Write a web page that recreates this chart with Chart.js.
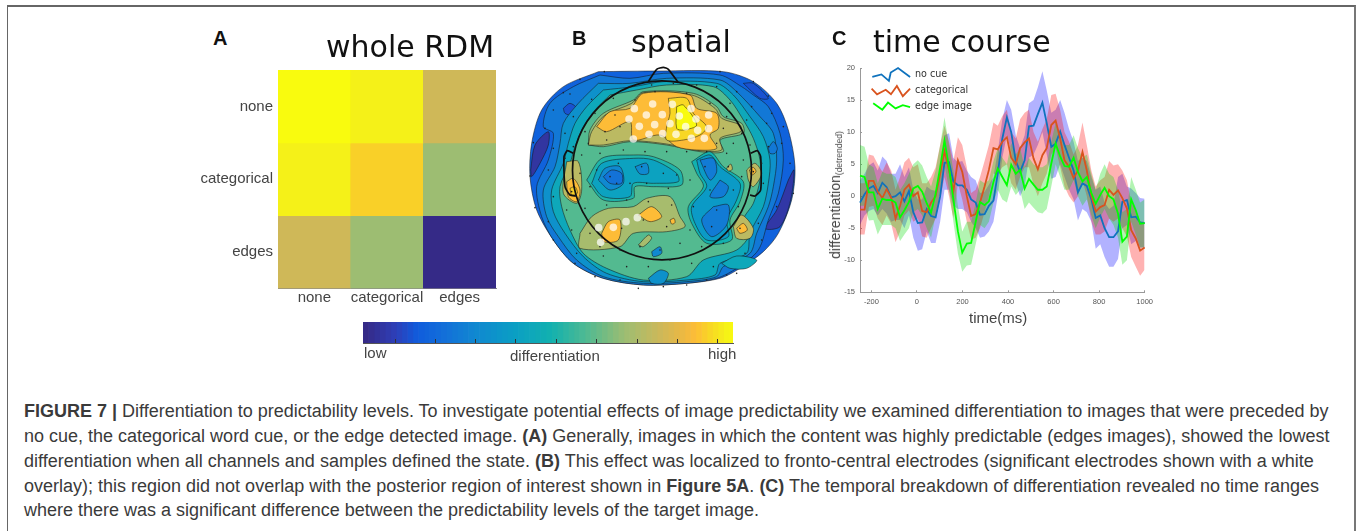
<!DOCTYPE html>
<html>
<head>
<meta charset="utf-8">
<script src="https://cdn.jsdelivr.net/npm/chart.js@4/dist/chart.umd.js"></script>
<style>
body { margin: 0; background: #fff; width: 1358px; height: 531px; overflow: hidden; position: relative; font-family: "Liberation Sans", sans-serif; }
#frame { position: absolute; left: 7px; top: 5px; width: 1346px; height: 540px; border: 1px solid #666; border-right: 2px solid #777; border-top: 2px solid #666; }
canvas { filter: blur(0.4px); }
.box { position: absolute; }
.txt { position: absolute; white-space: nowrap; }
.title { font-family: "DejaVu Sans"; font-size: 30px; color: #111; line-height: 30px; }
.letter { font-weight: bold; font-size: 20px; color: #111; line-height: 20px; }
.lab { font-size: 15px; color: #444; line-height: 16px; }
.leg { font-family: "DejaVu Sans"; font-size: 9.6px; color: #333; line-height: 11px; }
.cap { font-size: 18px; color: #3a3a3a; line-height: 18px; letter-spacing: 0; }
</style>
</head>
<body>
<div id="frame"></div>

<div class="box" style="left:190px;top:56px;width:320px;height:254px"><canvas id="chart-rdm"></canvas></div>
<div class="box" style="left:520px;top:20px;width:280px;height:280px"><canvas id="chart-topo"></canvas></div>
<div class="box" style="left:820px;top:55px;width:340px;height:275px"><canvas id="chart-time"></canvas></div>
<div class="box" style="left:355px;top:315px;width:385px;height:35px"><canvas id="chart-bar"></canvas></div>

<div class="txt letter" style="left:213px;top:28px">A</div>
<div class="txt letter" style="left:572px;top:28px">B</div>
<div class="txt letter" style="left:832px;top:28px">C</div>
<div class="txt title" style="left:326px;top:32px">whole RDM</div>
<div class="txt title" style="left:631px;top:27px">spatial</div>
<div class="txt title" style="left:873px;top:27px">time course</div>

<div class="txt lab" style="left:364px;top:345px">low</div>
<div class="txt lab" style="left:510px;top:348px">differentiation</div>
<div class="txt lab" style="left:708px;top:346px">high</div>

<div class="txt leg" style="left:915px;top:68px">no cue</div>
<div class="txt leg" style="left:915px;top:84px">categorical</div>
<div class="txt leg" style="left:915px;top:100px">edge image</div>
<div class="txt" style="left:835px;top:195px;transform:translate(-50%,-50%) rotate(-90deg);font-size:14px;color:#444">differentiation<span style="font-size:8.5px;position:relative;top:2px">(detrended)</span></div>

<div class="txt cap" style="left:24px;top:402px"><b>FIGURE 7 |</b> Differentiation to predictability levels. To investigate potential effects of image predictability we examined differentiation to images that were preceded by</div>
<div class="txt cap" style="left:24px;top:427px">no cue, the categorical word cue, or the edge detected image. <b>(A)</b> Generally, images in which the content was highly predictable (edges images), showed the lowest</div>
<div class="txt cap" style="left:24px;top:452px">differentiation when all channels and samples defined the state. <b>(B)</b> This effect was localized to fronto-central electrodes (significant electrodes shown with a white</div>
<div class="txt cap" style="left:24px;top:477px">overlay); this region did not overlap with the posterior region of interest shown in <b>Figure 5A</b>. <b>(C)</b> The temporal breakdown of differentiation revealed no time ranges</div>
<div class="txt cap" style="left:24px;top:501px">where there was a significant difference between the predictability levels of the target image.</div>

<script>
// panel A
conditions = ['none', 'categorical', 'edges']
rdmNone = [1.0, 0.97, 0.8]
rdmCategorical = [0.97, 0.92, 0.7]
rdmEdges = [0.8, 0.7, 0.0]

// colour scale
scalePos = [0, 0.08, 0.14, 0.22, 0.3, 0.4, 0.5, 0.6, 0.7, 0.8, 0.85, 0.89, 0.92, 0.97, 1]
scaleCol = ['#352a87', '#2e3fb8', '#0f5cdd', '#1372d8', '#1089d0', '#0a9ec4', '#12b1af', '#53ba90', '#9dbd72', '#cfb858', '#e8b845', '#fdbc37', '#f9d028', '#f5f118', '#f9fb0e']
barLevels = [0, 0.015, 0.03, 0.045, 0.06, 0.075, 0.09, 0.105, 0.12, 0.135, 0.15, 0.165, 0.18, 0.195, 0.21, 0.225, 0.24, 0.255, 0.27, 0.285, 0.3, 0.315, 0.33, 0.345, 0.36, 0.375, 0.39, 0.405, 0.42, 0.435, 0.45, 0.465, 0.48, 0.495, 0.51, 0.525, 0.54, 0.555, 0.57, 0.585, 0.6, 0.615, 0.63, 0.645, 0.66, 0.675, 0.69, 0.705, 0.72, 0.735, 0.75, 0.765, 0.78, 0.795, 0.81, 0.825, 0.84, 0.855, 0.87, 0.885, 0.9, 0.915, 0.93, 0.945, 0.96, 0.975, 0.99, 1]
barTicks = [0.0865, 0.196, 0.305, 0.413, 0.523, 0.632, 0.741, 0.85, 0.959]

// panel C
times = [-250,-230,-211,-191,-172,-152,-133,-113,-94,-74,-55,-35,-16,4,23,43,62,82,102,121,141,160,180,199,219,238,258,277,297,316,336,355,375,395,414,434,453,473,492,512,531,551,570,590,609,629,648,668,688,707,727,746,766,785,805,824,844,863,883,902,922,941,961,980,1000]
noCue = [-1,0.3,1.2,1.6,0.5,2.1,1.4,-0.2,0,0.6,-0.8,0.8,-2.5,-4.2,-4.1,-2,-3.1,-3.3,0,5.2,5.3,2.3,1.7,1.7,1,-0.5,-1,-2.9,-2.8,-1.5,-0.7,3.5,9,12.3,10,5.5,3.8,5.6,10.9,11,12.8,14.6,11.4,7.7,8.2,10.1,8,6,4,0.6,2,1.6,-0.5,-3.4,-3,-5,-6.4,-6.4,-5.5,-0.9,-0.6,-3.3,-3.2,-4.1,-4.2]
noCueHigh = [2.5,3.5,4.8,5.3,4,6.2,5.5,3.5,3.5,5,3,4.5,1,-0.5,-0.5,1.5,1,0.8,4,9.5,9.8,6,5.3,5.5,4,3,2.5,0.5,0.7,1.8,3,7,12,15,13.5,9.5,7.5,9.5,14.5,15,17,19.5,16.5,13,13.5,15,13,10.5,8.5,5.5,6,5.5,3,1,1.5,-1,-2,-1.5,3,3.5,1.5,1.2,0.5,-0.3,-0.4]
noCueLow = [-4.5,-3,-2.3,-2,-3,-2,-2.7,-4,-3.7,-3.7,-5,-3,-6.5,-8.5,-8.3,-5.5,-7.3,-7.3,-4,1,1,-1.5,-2,-2,-2.5,-4,-5,-6.5,-6.3,-5.5,-4,0,6,9.5,7,2,0,1.5,6,6.5,8,10,6.5,2.7,3,5,3,1,-0.5,-3.8,-2,-2.5,-4,-8.2,-7.5,-9.5,-11,-11,-9.8,-5,-4.5,-7.5,-7,-8,-8]
categorical = [-2.1,-2.1,2.4,2.4,0.7,-0.3,1.1,-0.2,-3.5,-1.5,1,1.8,0,0.6,-2.3,-2.5,-1,0,3.5,7,4,0.8,5.6,3.8,0,-3.1,-2.8,-1,1.5,4.1,7.5,7.3,8.5,9.2,6,5,7.5,8.4,9,5.9,4.2,6.4,7.5,11.1,11.8,9,5.6,4.6,2.8,4,6.9,4,0,-2.4,-1.7,-1.4,1,0.2,0.9,-0.3,-1.9,-5.3,-6.6,-8.5,-8]
categoricalHigh = [2,2,6.5,6.3,5,3.8,5.3,4,1,3,5.3,6,4.5,5,2,2,3,4.5,8,11,8.5,5.5,9.2,8,4.5,0.5,1,3,5.5,8,11.5,11,12.5,13.5,10,9,12,13,13.5,10,8.5,10.5,12,15.8,16,13.5,10,8.5,6.5,8,11.5,8,4,1.5,2.5,3,5.5,4.8,5,4,2.5,-1,-2,-4,-4]
categoricalLow = [-6,-6,-1.7,-1.5,-3.5,-4.5,-3,-4.3,-7.2,-5.5,-3,-2.2,-4,-3.5,-6.3,-6.5,-5,-3.5,-0.5,3,0,-3.5,2,-0.5,-4,-6.8,-6.5,-5,-2.5,0,3.5,3.5,4.5,5,2,1,3,4.5,4.5,1.8,0,2,3.5,6.5,7.5,4.5,1.5,0,-1,0,2.5,0,-4,-6,-6,-5.5,-3.5,-4,-3.5,-5,-6.3,-9.5,-11,-12.4,-11.5]
edgeImage = [3.2,3,0.6,0.6,-2,-0.4,-0.6,-0.6,-1,-3.3,-2.2,-0.9,1.2,1.6,0.7,-1.1,-2.6,0.4,4.5,8.7,4.5,-0.5,-5.5,-8.8,-7.4,-7.3,-4,-0.9,-1.4,-0.8,2.2,4.3,3,1.7,4.9,3.5,4.1,1.2,2.7,1.8,1,1,1.5,5.1,8.2,6.2,4.7,4.6,6,3.8,2.3,3,0.5,-1.2,0.2,1.3,0,-0.5,-2.7,-7.1,-6.3,-0.5,-2.2,-4.3,-4.2]
edgeImageHigh = [8,7.7,5,4.5,2,3.8,3.5,3.5,3,1,2,3.5,5,5.6,4.8,3,1.5,4,8,12.3,8,4,-1.5,-5.5,-4,-4,-1,2.5,2,2.5,5.5,7.5,6,5,8.3,6.5,7.5,4.5,6,5,4.5,4.5,5,8.5,11.5,9.5,8,8,9.5,7.5,6,6.5,3.5,1,3.5,5,3.5,3,1,-2.5,-2,3,1,-1,-0.5]
edgeImageLow = [-1.5,-1.5,-3.8,-3.7,-6,-4.5,-4.5,-4.5,-5,-7,-6,-5,-2.5,-2,-3,-5,-6.5,-3,1,5,1,-4,-9,-11.8,-10.8,-10.7,-7.5,-4.5,-5,-4,-1,1,-0.5,-1,1.5,0.2,1,-2,-1,-1.8,-2.5,-2.7,-2,1.5,5,3,1,1,2.5,0,-1.5,-0.5,-3,-5,-3.3,-2,-3.5,-4.5,-6.5,-10.7,-10,-4,-6,-8,-8]
legendNoCue = [[-196, 18.6], [-156, 19], [-123, 18], [-115, 19.3], [-83, 20], [-30, 18.6]]
legendCategorical = [[-199, 16.8], [-175, 15.9], [-137, 16.6], [-114, 15.9], [-88, 17.2], [-62, 15.6], [-30, 16.8]]
legendEdgeImage = [[-192, 14.5], [-152, 13.5], [-127, 14.6], [-94, 13.7], [-62, 14.2], [-30, 13.9]]
timeTicks = [-200, 0, 200, 400, 600, 800, 1000]
diffTicks = [-15, -10, -5, 0, 5, 10, 15, 20]

// panel B, contour lines from the outside of the head to the inside, and the level of each
contourLevels = [0.16, 0.04, 0.05, 0.24, 0.12, 0.12, 0.34, 0.45, 0.6, 0.68, 0.76, 0.89, 0.93, 1, 0.52, 0.42, 0.3, 0.5, 0.38, 0.25, 0.25, 0.25, 0.3, 0.22, 0.76, 0.89, 0.92, 0.76, 0.89, 0.72, 0.76, 0.89, 0.89, 0.89, 0.72, 0.76, 0.89, 0.3, 0.34, 0.45, 0.24]
contourLines = [
    [[235,155],[420,153],[610,155],[700,185],[770,250],[805,330],[825,440],[815,540],[775,640],[730,695],[660,745],[600,775],[500,790],[370,795],[250,775],[160,730],[100,660],[50,570],[30,470],[35,370],[65,270],[130,200]],
    [[32,450],[45,375],[85,335],[85,375],[60,430],[35,470]],
    [[805,480],[822,450],[812,540],[780,620],[735,625],[770,570]],
    [[240,165],[330,175],[430,160],[600,165],[665,200],[700,225],[745,260],[780,340],[790,420],[775,520],[745,600],[715,690],[650,745],[590,775],[500,790],[370,795],[250,775],[160,730],[100,660],[65,590],[50,500],[85,420],[100,340],[70,320],[90,250],[160,200]],
    [[130,265],[150,250],[170,265],[155,285],[135,280]],
    [[670,190],[700,190],[745,235],[720,235]],
    [[235,190],[330,190],[440,175],[600,180],[650,215],[720,290],[760,340],[770,420],[760,500],[745,560],[710,640],[690,700],[610,740],[590,770],[500,785],[370,790],[250,770],[170,720],[115,650],[80,590],[70,510],[105,440],[120,370],[130,310],[175,250]],
    [[250,210],[340,200],[430,185],[590,190],[640,225],[690,290],[730,350],[750,420],[745,490],[730,560],[690,640],[680,700],[600,730],[585,765],[500,780],[370,785],[260,760],[190,710],[135,640],[100,575],[95,510],[130,430],[145,370],[165,310],[200,260]],
    [[270,225],[350,210],[440,195],[580,200],[630,240],[670,300],[700,355],[720,420],[720,480],[700,550],[670,600],[690,640],[650,690],[550,720],[500,770],[370,780],[260,745],[190,700],[150,630],[125,560],[120,500],[150,430],[165,380],[190,320],[225,270]],
    [[205,375],[210,330],[250,280],[340,240],[370,215],[520,220],[590,260],[610,290],[665,310],[670,340],[600,360],[610,395],[540,395],[440,375],[330,365],[250,380]],
    [[205,375],[215,335],[255,285],[335,250],[370,218],[515,225],[585,265],[605,295],[660,315],[662,335],[600,355],[605,390],[540,392],[440,372],[330,362],[250,375]],
    [[230,320],[270,275],[330,265],[370,220],[510,225],[530,265],[590,280],[595,325],[570,345],[590,385],[530,390],[470,380],[420,345],[340,360],[330,305],[260,335]],
    [[445,235],[500,235],[520,280],[560,320],[540,345],[490,360],[440,360],[440,320],[450,280]],
    [[470,260],[490,255],[530,315],[490,330],[470,325]],
    [[200,480],[245,415],[340,405],[400,410],[480,450],[485,495],[400,500],[345,500],[340,535],[250,540]],
    [[215,490],[245,430],[340,415],[400,420],[470,460],[475,485],[400,490],[340,490],[330,530],[250,530]],
    [[235,480],[255,445],[300,440],[310,490],[270,510]],
    [[515,425],[570,395],[610,440],[670,485],[660,545],[630,600],[635,660],[560,670],[515,610],[505,560],[550,500],[530,460]],
    [[530,420],[570,405],[600,440],[660,490],[650,540],[620,600],[625,650],[560,660],[525,610],[515,560],[560,500],[540,460]],
    [[540,420],[580,415],[590,455],[570,480]],
    [[600,480],[625,500],[610,530],[570,530]],
    [[580,560],[625,555],[620,615],[575,650],[545,600]],
    [[345,440],[380,430],[385,460],[360,462]],
    [[250,470],[275,450],[305,460],[305,490],[270,490]],
    [[140,425],[175,425],[185,510],[170,550],[130,520]],
    [[140,485],[160,475],[180,510],[170,545],[145,530]],
    [[150,505],[165,500],[172,520],[155,525]],
    [[680,450],[705,430],[725,460],[700,500],[685,480]],
    [[688,450],[700,442],[708,455],[695,465]],
    [[180,640],[215,590],[265,565],[340,560],[380,535],[450,530],[480,590],[495,620],[440,635],[340,640],[300,680],[180,685]],
    [[640,620],[665,585],[700,625],[690,655],[650,655]],
    [[245,640],[265,605],[300,600],[295,660],[250,665]],
    [[355,585],[395,560],[425,590],[390,605]],
    [[650,625],[670,610],[682,630],[660,640]],
    [[355,675],[385,645],[395,655],[370,680]],
    [[620,445],[632,432],[637,448],[625,453]],
    [[450,600],[462,595],[465,608],[455,612]],
    [[395,695],[420,680],[425,700],[400,710]],
    [[385,775],[420,750],[445,760],[430,790],[395,790]],
    [[605,730],[650,708],[710,720],[680,745],[630,745]],
    [[745,385],[760,365],[772,385],[765,400],[750,400]]
]
headNose = [[385,185],[410,148],[430,142],[445,148],[475,188]]
earLeft = [[160,400],[142,392],[132,410],[135,500],[150,525],[168,528]]
earRight = [[692,400],[712,392],[722,410],[722,510],[705,528],[690,525]]
headCentre = [[426,451]]
sigElectrodes = [[343,266],[398,252],[457,253],[513,266],[327,297],[379,285],[427,284],[478,288],[528,297],[566,285],[358,319],[404,314],[450,311],[497,320],[566,326],[533,331],[340,357],[387,343],[428,341],[468,343],[514,355],[553,355],[236,623],[280,622],[318,605],[352,593],[242,667]]
electrodes = [[253,155],[600,155],[700,185],[745,228],[130,218],[180,178],[330,200],[395,195],[460,190],[530,195],[590,200],[650,215],[150,222],[215,238],[280,235],[345,240],[405,215],[500,220],[570,250],[630,250],[695,260],[755,280],[100,270],[160,290],[225,280],[285,285],[620,290],[680,300],[740,310],[790,320],[75,325],[135,340],[195,335],[255,335],[300,320],[610,325],[665,340],[745,380],[785,370],[40,368],[100,385],[160,380],[205,370],[260,360],[590,370],[640,370],[690,375],[810,430],[30,468],[85,450],[135,415],[185,405],[240,400],[310,390],[375,395],[440,395],[500,395],[560,395],[620,400],[670,420],[725,430],[180,460],[230,450],[295,430],[365,440],[430,460],[470,465],[555,440],[625,440],[665,470],[730,490],[820,520],[45,563],[100,530],[155,515],[210,500],[270,470],[290,490],[330,490],[380,490],[445,505],[510,480],[570,510],[640,510],[700,455],[770,560],[85,605],[140,570],[195,565],[260,555],[320,540],[385,545],[455,555],[520,560],[590,570],[655,560],[715,610],[100,660],[155,630],[210,640],[305,625],[370,600],[440,620],[510,630],[575,620],[660,625],[725,660],[170,700],[240,680],[300,690],[360,680],[420,690],[480,670],[545,680],[610,670],[675,700],[165,730],[250,708],[320,740],[385,740],[450,720],[515,730],[580,740],[650,760],[225,770],[300,780],[355,805],[430,800],[500,795],[560,780],[620,765]]

function hex(c) {
    return [1, 3, 5].map(i => parseInt(c.substr(i, 2), 16))
}

function levelColor(v) {
    for (let i = 1; i < scalePos.length; i++) {
        if (v <= scalePos[i]) {
            let f = (v - scalePos[i - 1]) / (scalePos[i] - scalePos[i - 1])
            let a = hex(scaleCol[i - 1]), b = hex(scaleCol[i])
            return 'rgb(' + a.map((x, k) => Math.round(x + (b[k] - x) * f)).join(',') + ')'
        }
    }
    return scaleCol[scaleCol.length - 1]
}

function xy(arr) {
    return arr.map(p => ({ x: p[0], y: p[1] }))
}

// heat map, every row is a dataset of floating bars
rdmRows = [rdmNone, rdmCategorical, rdmEdges]
new Chart(document.getElementById('chart-rdm'), {
    type: 'bar',
    data: {
        labels: conditions,
        datasets: rdmRows.map((row, r) => ({
            label: conditions[r],
            data: row.map(() => [r, r + 1]),
            backgroundColor: row.map(levelColor),
            grouped: false,
            barPercentage: 1,
            categoryPercentage: 1
        }))
    },
    options: {
        responsive: true, maintainAspectRatio: false, animation: false,
        layout: { autoPadding: false, padding: { top: 6, right: 14 } },
        plugins: { legend: { display: false }, tooltip: { enabled: false } },
        scales: {
            x: {
                grid: { display: false, drawTicks: false },
                border: { color: '#888' },
                ticks: { color: '#444', padding: 0, autoSkip: false, font: { size: 15, family: 'Liberation Sans' }, maxRotation: 0 },
                afterFit: s => { s.height = 21.5 }
            },
            y: {
                reverse: true, min: 0, max: 3,
                grid: { display: false, drawTicks: false },
                border: { color: '#888' },
                afterBuildTicks: s => { s.ticks = [0.5, 1.5, 2.5].map(v => ({ value: v })) },
                ticks: { color: '#444', padding: 5, font: { size: 15, family: 'Liberation Sans' }, callback: (v) => conditions[Math.floor(v)] },
                afterFit: s => { s.width = 88 }
            }
        }
    }
})

// colour bar
new Chart(document.getElementById('chart-bar'), {
    type: 'bar',
    data: {
        labels: ['differentiation'],
        datasets: barLevels.slice(0, -1).map((v, i) => ({
            data: [[v, barLevels[i + 1]]],
            backgroundColor: levelColor(v),
            grouped: false,
            barPercentage: 1,
            categoryPercentage: 1
        }))
    },
    options: {
        indexAxis: 'y',
        responsive: true, maintainAspectRatio: false, animation: false,
        layout: { autoPadding: false, padding: { top: 7, left: 8, right: 7 } },
        plugins: { legend: { display: false }, tooltip: { enabled: false } },
        scales: {
            x: {
                min: 0, max: 1,
                grid: { drawOnChartArea: false, tickLength: -4, tickColor: '#333', z: 1 },
                border: { color: '#555', z: 1 },
                afterBuildTicks: s => { s.ticks = barTicks.map(v => ({ value: v })) },
                ticks: { display: false },
                afterFit: s => { s.height = 7 }
            },
            y: {
                display: false
            }
        }
    }
})

// topographic map
contourSets = contourLines.map((line, i) => ({
    data: xy(line.concat([line[0]])),
    showLine: true,
    tension: 0.3,
    fill: 'shape',
    backgroundColor: levelColor(contourLevels[i]),
    borderColor: 'rgba(20,20,20,0.75)',
    borderWidth: 0.7,
    pointRadius: 0,
    order: 1000 - i
}))
outlineStyle = { showLine: true, tension: 0.2, borderColor: '#111', borderWidth: 1.7, pointRadius: 0, fill: false, order: 3 }
new Chart(document.getElementById('chart-topo'), {
    type: 'scatter',
    data: {
        datasets: contourSets.concat([
            Object.assign({ data: xy(headNose) }, outlineStyle),
            Object.assign({ data: xy(earLeft) }, outlineStyle),
            Object.assign({ data: xy(earRight) }, outlineStyle),
            { data: xy(headCentre), pointRadius: 89.5, pointBackgroundColor: 'rgba(0,0,0,0)', pointBorderColor: '#111', pointBorderWidth: 1.7, order: 2 },
            { data: xy(electrodes), pointRadius: 0.8, pointBackgroundColor: '#222', pointBorderWidth: 0, order: 1 },
            { data: xy(sigElectrodes), pointRadius: 3.8, pointBackgroundColor: 'rgba(255,255,255,0.72)', pointBorderWidth: 0, order: 0 }
        ])
    },
    options: {
        responsive: true, maintainAspectRatio: false, animation: false,
        layout: { autoPadding: false },
        plugins: { legend: { display: false }, tooltip: { enabled: false } },
        scales: {
            x: { display: false, min: 0, max: 840 },
            y: { display: false, min: 0, max: 840, reverse: true }
        }
    }
})

// time course
function series(arr) {
    return arr.map((v, i) => ({ x: times[i], y: v }))
}

function band(high, low, color, order) {
    return [
        { data: series(high), borderWidth: 0, pointRadius: 0, fill: '+1', backgroundColor: color, order: order },
        { data: series(low), borderWidth: 0, pointRadius: 0, fill: false, order: order }
    ]
}

function line(data, color, order) {
    return { data: data, borderColor: color, borderWidth: 1.8, pointRadius: 0, fill: false, order: order, clip: false }
}

new Chart(document.getElementById('chart-time'), {
    type: 'line',
    data: {
        datasets: [].concat(
            band(noCueHigh, noCueLow, 'rgba(0,0,255,0.3)', 5),
            band(categoricalHigh, categoricalLow, 'rgba(255,0,0,0.3)', 4),
            band(edgeImageHigh, edgeImageLow, 'rgba(0,220,0,0.3)', 3),
            [
                line(series(noCue), '#0f72bd', 2),
                line(series(categorical), '#d9531e', 1),
                line(series(edgeImage), '#00ff00', 0),
                line(xy(legendNoCue), '#0f72bd', 0),
                line(xy(legendCategorical), '#d9531e', 0),
                line(xy(legendEdgeImage), '#00ff00', 0)
            ]
        )
    },
    options: {
        responsive: true, maintainAspectRatio: false, animation: false,
        layout: { autoPadding: false, padding: { top: 13, right: 12 } },
        plugins: { legend: { display: false }, tooltip: { enabled: false } },
        scales: {
            x: {
                type: 'linear', min: -250, max: 1000,
                grid: { drawOnChartArea: false, tickLength: -2, tickColor: '#999' },
                border: { color: '#999' },
                afterBuildTicks: s => { s.ticks = timeTicks.map(v => ({ value: v })) },
                ticks: { color: '#555', padding: 7, autoSkip: false, callback: v => String(v), font: { size: 7.5, family: 'Liberation Sans' }, maxRotation: 0 },
                title: { display: true, text: 'time(ms)\u00a0\u00a0', color: '#444', padding: { top: 0, bottom: 2 }, font: { size: 15, family: 'Liberation Sans' } },
                afterFit: s => { s.height = 37.7 }
            },
            y: {
                min: -15, max: 20,
                grid: { drawOnChartArea: false, tickLength: -2, tickColor: '#999' },
                border: { color: '#999' },
                afterBuildTicks: s => { s.ticks = diffTicks.map(v => ({ value: v })) },
                ticks: { color: '#555', padding: 7, font: { size: 7.5, family: 'Liberation Sans' } },
                afterFit: s => { s.width = 40 }
            }
        }
    }
})
</script>
</body>
</html>
